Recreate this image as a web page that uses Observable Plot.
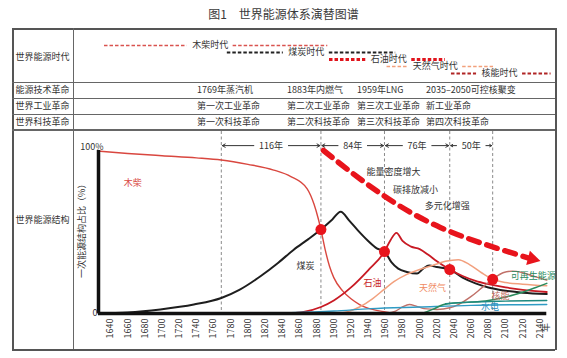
<!DOCTYPE html>
<html><head><meta charset="utf-8">
<script src="https://cdn.jsdelivr.net/npm/d3@7"></script>
<script src="https://cdn.jsdelivr.net/npm/@observablehq/plot@0.6"></script>
<style>
body{margin:0;background:#fff;font-family:"Noto Sans CJK SC","Noto Sans",sans-serif;color:#333}
#root{position:relative;width:567px;height:358px;overflow:hidden;background:#fff}
.ln{position:absolute;background:#666}
.t{position:absolute;font-size:9px;line-height:9px;white-space:nowrap;color:#333}
svg{position:absolute;left:0}
</style></head><body><div id="root"></div>
<script>
// ---------------- data ----------------
const title = "图1　世界能源体系演替图谱";
const rowLabels = ["世界能源时代","能源技术革命","世界工业革命","世界科技革命","世界能源结构"];
const techLabels = ["1769年蒸汽机","1883年内燃气","1959年LNG","2035–2050可控核聚变"];
const industryLabels = ["第一次工业革命","第二次工业革命","第三次工业革命","新工业革命"];
const scienceLabels = ["第一次科技革命","第二次科技革命","第三次科技革命","第四次科技革命"];

const eraNames = ["木柴时代","煤炭时代","石油时代","天然气时代","核能时代"];
const eraStart = [1633, 1776, 1895, 1962, 2037];
const eraLabelAt = [1756, 1868, 1964, 2018, 2093];
const eraEnd = [1893, 1972, 2030, 2086, 2153];

const milestoneYears = [1769, 1885, 1959, 2035, 2085];
const periodLabels = ["116年", "84年", "76年", "50年"];
const crossYears = [1885, 1959, 2035, 2085];
const crossShares = [51.5, 38, 27, 21];

const tickYears = d3.range(1640, 2141, 20);

const wood = [[1628,99.5],[1660,98.2],[1700,96.8],[1740,95.5],[1769,94.2],[1800,91.5],[1830,88],[1850,84],[1869,76.5],[1877,67],[1882,58],[1885,51.5],[1890,39],[1895,29],[1900,22],[1910,14],[1920,9],[1930,5.5],[1945,2.5],[1960,1],[1972,0]];
const coal = [[1626,0],[1660,0.6],[1698,2.5],[1737,5.5],[1769,9.5],[1790,14.5],[1815,23],[1835,31],[1853,39],[1870,45.5],[1885,51.5],[1897,57],[1908,62.5],[1918,57],[1928,51],[1940,44.5],[1950,40],[1959,38],[1967,31.5],[1975,27.5],[1985,25.5],[1997,24.5],[2004,27.5],[2011,29.5],[2020,28.5],[2035,27],[2050,22],[2065,18.5],[2080,16],[2100,14],[2120,12.8],[2148,12]];
const oil = [[1848,0],[1865,1],[1885,4],[1900,8],[1920,16],[1940,26.5],[1959,38],[1966,45],[1973,49.5],[1980,44.5],[1990,41],[2000,39.5],[2010,36],[2020,32],[2035,27],[2050,23],[2065,20],[2080,18],[2100,16],[2120,14.5],[2148,13.2]];
const gas = [[1900,0],[1915,1],[1930,4],[1945,9],[1959,15],[1970,19.5],[1985,24],[2000,27],[2015,29.5],[2030,32],[2045,33],[2058,30],[2072,25],[2085,21],[2100,19],[2120,18],[2148,17]];
const nuclear = [[1960,0],[1972,1.5],[1980,4],[1988,5.5],[1996,4.5],[2005,3],[2020,2.5],[2035,3.5],[2045,5.5],[2060,10.5],[2073,16],[2085,21],[2097,25],[2108,26],[2120,25],[2135,22.5],[2148,20.5]];
const hydro = [[1780,0],[1850,0.5],[1900,1.5],[1943,3],[2000,4],[2060,5],[2148,5.5]];
const renewable = [[2003,0],[2015,2.5],[2028,5.5],[2040,6.5],[2060,7],[2080,8],[2095,9.5],[2110,11.5],[2125,14],[2138,16.5],[2148,18.5]];
const otherNew = [[2030,6],[2060,7],[2100,7.6],[2148,8]];

const seriesNames = ["木柴","煤炭","石油","天然气","核能","水电","可再生能源","其他"];
const seriesPoints = [wood, coal, oil, gas, nuclear, hydro, renewable, otherNew];
const seriesLabelAt = [[1666,79.8],[1867,28.8],[1945,18.4],[2015,15.3],[2094,10.4],[2082,3.7],[2106,22.7],null];

const trendTexts = ["能量密度增大","碳排放减小","多元化增强"];
const trendTextAt = [[1969.5,86.5],[1995,75.5],[2032,65.6]];
const trendPath = [[1888,100],[1946,76.7],[2024,52.8],[2127,34]];

// ---------------- styles ----------------
const FONT = '"Noto Sans CJK SC","Noto Sans",sans-serif';
const seriesColor = ["#d9473f","#1e1e1e","#c81a24","#f2a07e","#c07068","#2f9bc4","#2a8a5c","#1f8a80"];
const seriesWidth = [1.4,2,1.8,1.5,1.4,1.4,1.5,1.4];
const labelColor = ["#d9473f","#333","#c81a24","#f08a62","#c06a60","#2a8fc0","#2a8a60",null];
const eraColor = ["#d9534f","#222","#e0141c","#f2a07b","#b02525"];
const eraWidth = [1.6,2.2,3,1.6,2];

const xDomain = [1626, 2150];
const ML = 98, MR = 19;

// ---------------- table skeleton ----------------
const root = document.getElementById("root");
function add(cls, css, text){
  const d = document.createElement("div");
  d.className = cls; Object.assign(d.style, css);
  if (text != null) d.textContent = text;
  root.appendChild(d); return d;
}
add("t", {left:"0px", top:"8px", width:"567px", textAlign:"center", fontSize:"12px", lineHeight:"12px", color:"#3a3a3a"}, title);
const L = 12, R = 555, T = 28, B = 349, C = 73;
add("ln", {left:L+"px", top:T+"px", width:(R-L)+"px", height:"1.5px", background:"#555"});
add("ln", {left:L+"px", top:B+"px", width:(R-L)+"px", height:"1.5px", background:"#555"});
add("ln", {left:L+"px", top:T+"px", width:"1.5px", height:(B-T)+"px", background:"#555"});
add("ln", {left:R+"px", top:T+"px", width:"1.5px", height:(B-T+1)+"px", background:"#555"});
add("ln", {left:C+"px", top:T+"px", width:"1px", height:(B-T)+"px"});
const rowLines = [82, 98, 114, 129];
rowLines.forEach((y,i) => add("ln", {left:L+"px", top:y+"px", width:(R-L)+"px", height:(i===3?"2px":"1px")}));
const rowCenters = [57, 90, 106, 122, 220];
rowLabels.forEach((s,i) => add("t", {left:L+"px", width:(C-L)+"px", textAlign:"center", top:(rowCenters[i]-5)+"px"}, s));
const colLeft = [197, 287, 357, 426];
[techLabels, industryLabels, scienceLabels].forEach((arr, r) => {
  arr.forEach((s, i) => add("t", {left:colLeft[i]+"px", top:(rowCenters[r+1]-5)+"px"}, s));
});

// ---------------- era row (Plot) ----------------
const pxPerYear = (567 - ML - MR) / (xDomain[1] - xDomain[0]);
const pxPerPct = 1.63;
const eraSegs = [];
eraNames.forEach((name, i) => {
  const gap = (name.length * 9 / 2 + 5) / pxPerYear;
  eraSegs.push({era: name, i, x1: eraStart[i], x2: eraLabelAt[i] - gap});
  eraSegs.push({era: name, i, x1: eraLabelAt[i] + gap, x2: eraEnd[i]});
});
const eraPlot = Plot.plot({
  width: 567, height: 54,
  marginLeft: ML, marginRight: MR, marginTop: 0, marginBottom: 0,
  x: {domain: xDomain, axis: null},
  y: {type: "point", domain: eraNames, range: [13, 48], axis: null},
  style: {fontFamily: FONT, fontSize: "9px", color: "#333", background: "transparent"},
  marks: [
    ...eraNames.map((name, i) => Plot.ruleY(eraSegs.filter(d => d.i === i), {
      y: "era", x1: "x1", x2: "x2", stroke: eraColor[i], strokeWidth: eraWidth[i], strokeDasharray: "3.5,2"
    })),
    Plot.text(eraNames.map((n, i) => ({n, x: eraLabelAt[i]})), {x: "x", y: "n", text: "n", fill: "#333", fontSize: 9})
  ]
});
eraPlot.style.top = T + "px";
root.appendChild(eraPlot);

// ---------------- main chart (Plot) ----------------
const lineMarks = seriesPoints.map((pts, i) => Plot.line(pts, {
  x: d => d[0], y: d => d[1], stroke: seriesColor[i], strokeWidth: seriesWidth[i], curve: "monotone-x"
}));
const labelData = seriesNames.map((n, i) => ({n, i, p: seriesLabelAt[i]})).filter(d => d.p);
const ANN_Y = 103;
const periodData = periodLabels.map((s, i) => ({s, a: milestoneYears[i], b: milestoneYears[i+1], m: (milestoneYears[i] + milestoneYears[i+1]) / 2}));
const periodArrows = [];
periodData.forEach(d => {
  const w = (d.s.length - 1) * 5.2 + 9;
  const g = (w / 2 + 5) / pxPerYear;
  periodArrows.push({x1: d.m - g, x2: d.a});
  periodArrows.push({x1: d.m + g, x2: d.b});
});
const tEnd = trendPath[trendPath.length - 1], tPrev = trendPath[trendPath.length - 2];
const slope = ((tPrev[1] - tEnd[1]) * pxPerPct) / ((tEnd[0] - tPrev[0]) * pxPerYear);
const angle = Math.atan(slope * 0.75) * 180 / Math.PI;
const headAt = [tEnd[0] + 4, tEnd[1] - 4 * pxPerYear * Math.tan(angle * Math.PI / 180) / pxPerPct];

const main = Plot.plot({
  width: 567, height: 228,
  marginLeft: ML, marginRight: MR, marginTop: 1, marginBottom: 45,
  x: {domain: xDomain},
  y: {domain: [0, 100], range: [183, 20], axis: null},
  style: {fontFamily: FONT, fontSize: "9px", color: "#333", background: "transparent"},
  marks: [
    Plot.ruleX(milestoneYears, {stroke: "#8a8a8a", strokeDasharray: "3,2.5", strokeWidth: 1}),
    ...lineMarks,
    Plot.ruleY([0], {x1: xDomain[0], x2: xDomain[1] - 2, stroke: "#111", strokeWidth: 3.5}),
    Plot.ruleX([xDomain[0]], {y1: 0, y2: 100, stroke: "#111", strokeWidth: 3.5}),
    Plot.dot(crossYears.map((y, i) => [y, crossShares[i]]), {x: d => d[0], y: d => d[1], r: 5.5, fill: "#e8141c"}),
    Plot.line(trendPath, {x: d => d[0], y: d => d[1], curve: "natural",
      stroke: "#e8141c", strokeWidth: 5.5, strokeDasharray: "11,8"}),
    Plot.dot([headAt], {x: d => d[0], y: d => d[1], symbol: "triangle", r: 5.5, fill: "#e8141c", rotate: 90 + angle}),
    Plot.text(trendTexts.map((s, i) => ({s, p: trendTextAt[i]})), {x: d => d.p[0], y: d => d.p[1], text: "s", fill: "#333", fontSize: 9}),
    Plot.text(labelData.filter(d => d.n !== "可再生能源"), {x: d => d.p[0], y: d => d.p[1], text: "n", fill: d => labelColor[d.i], textAnchor: "middle", fontSize: 9}),
    Plot.text(labelData.filter(d => d.n === "可再生能源"), {x: d => d.p[0], y: d => d.p[1], text: "n", fill: d => labelColor[d.i], textAnchor: "start", fontSize: 9}),
    Plot.arrow(periodArrows, {x1: "x1", x2: "x2", y1: ANN_Y, y2: ANN_Y, stroke: "#333", strokeWidth: 1, headLength: 5, insetEnd: 1}),
    Plot.text(periodData, {x: "m", y: ANN_Y, text: "s", fill: "#333", fontSize: 9}),
    Plot.axisX({ticks: tickYears, tickFormat: d => String(d), tickRotate: -90, tickSize: 0, tickPadding: 5, label: null, fontSize: 9}),
    Plot.text([{t: "年", x: xDomain[1]}], {x: "x", text: "t", frameAnchor: "bottom", dy: 14, rotate: -90, fontSize: 9, fill: "#333"}),
    Plot.text([100], {x: xDomain[0], y: d => d, text: () => "100%", textAnchor: "end", dx: 5, lineAnchor: "bottom", dy: -1, fontSize: 9, fill: "#333"}),
    Plot.text([0], {x: xDomain[0], y: d => d, text: () => "0", textAnchor: "end", dx: -1, fontSize: 9, fill: "#333"}),
    Plot.text(["一次能源结构占比（%）"], {x: xDomain[0], y: 52, text: d => d, rotate: -90, dx: -16, fontSize: 9, fill: "#333"})
  ]
});
main.style.top = "130px";
root.appendChild(main);
</script></body></html>
